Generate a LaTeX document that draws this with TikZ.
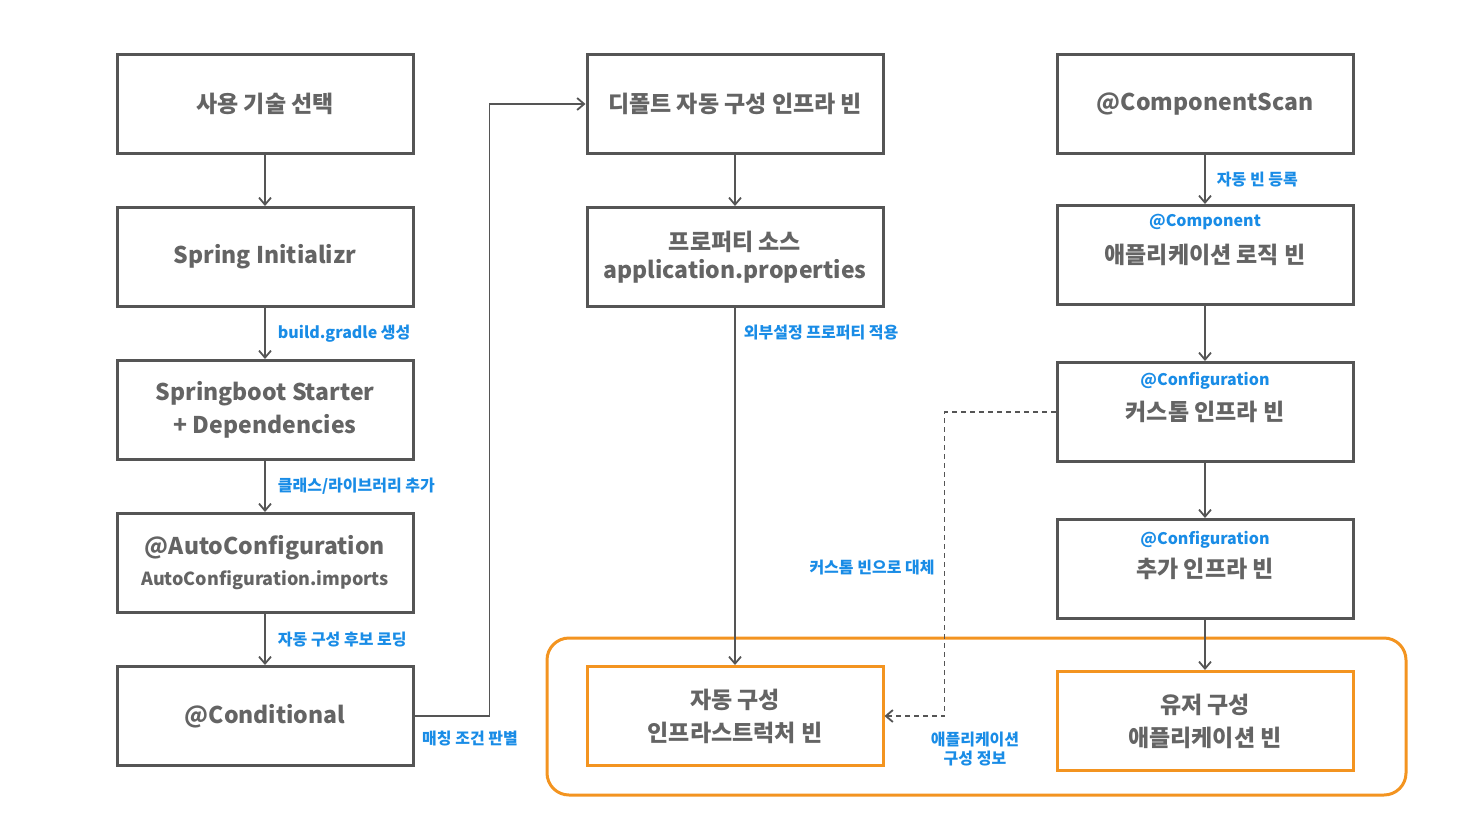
\documentclass[tikz,border=0pt]{standalone}
\usepackage{fontspec}
\setmainfont{Noto Sans CJK KR}
\usetikzlibrary{arrows.meta,positioning}
\definecolor{boxgray}{RGB}{85,85,85}
\definecolor{textgray}{RGB}{100,100,100}
\definecolor{labelblue}{RGB}{25,140,230}
\definecolor{grouporange}{RGB}{243,148,32}

\tikzset{
  stepbox/.style={draw=boxgray, line width=3pt, minimum width=296pt, minimum height=99pt,
    align=center, text=textgray, font=\fontsize{23}{33}\selectfont\bfseries},
  beanbox/.style={stepbox, draw=grouporange},
  tag/.style={text=labelblue, font=\fontsize{16}{19}\selectfont\bfseries},
  edgelbl/.style={tag, inner sep=2pt},
  arr/.style={draw=boxgray, line width=1.8pt, -{Straight Barb[length=7pt,width=12pt]}},
  dasharr/.style={arr, dash pattern=on 5pt off 4pt},
}

\begin{document}
\begin{tikzpicture}[x=1pt,y=-1pt]
  \useasboundingbox (0,0) rectangle (1467,820);

  % Group of resulting beans
  \draw[grouporange, line width=3pt, rounded corners=22pt] (547,638) rectangle (1406,795);

  % Left column: project setup
  \node[stepbox] (L1) at (265,104) {사용 기술 선택};
  \node[stepbox] (L2) at (265,257) {Spring Initializr};
  \node[stepbox] (L3) at (265,410) {Springboot Starter\\+ Dependencies};
  \node[stepbox] (L4) at (265,563) {@AutoConfiguration\\[-2pt]{\fontsize{18}{22}\selectfont AutoConfiguration.imports}};
  \node[stepbox] (L5) at (265,716) {@Conditional};

  % Middle column: auto configured beans
  \node[stepbox] (M1) at (735,104) {디폴트 자동 구성 인프라 빈};
  \node[stepbox] (M2) at (735,257) {프로퍼티 소스\\[-5pt]application.properties};
  \node[beanbox] (M3) at (735,716) {자동 구성\\인프라스트럭처 빈};

  % Right column: user beans
  \node[stepbox] (R1) at (1205,104) {@ComponentScan};
  \node[stepbox] (R2) at (1205,255) {애플리케이션 로직 빈};
  \node[tag] (R2tag) at (1205,222) {@Component};
  \node[stepbox] (R3) at (1205,412) {커스톰 인프라 빈};
  \node[tag] (R3tag) at (1205,381) {@Configuration};
  \node[stepbox] (R4) at (1205,569) {추가 인프라 빈};
  \node[tag] (R4tag) at (1205,540) {@Configuration};
  \node[beanbox] (R5) at (1205,721) {유저 구성\\애플리케이션 빈};

  % Left flow
  \draw[arr] (L1) -- (L2);
  \draw[arr] (L2) -- node[edgelbl, right=10pt] {build.gradle 생성} (L3);
  \draw[arr] (L3) -- node[edgelbl, right=10pt] {클래스/라이브러리 추가} (L4);
  \draw[arr] (L4) -- node[edgelbl, right=10pt] {자동 구성 후보 로딩} (L5);
  \draw[arr] (L5.east) -- ++(75,0) coordinate (c1) -- (c1 |- M1.west) -- (M1.west);
  \node[edgelbl] (matchlbl) at (470,739) {매칭 조건 판별};

  % Middle flow
  \draw[arr] (M1) -- (M2);
  \draw[arr] (M2) -- node[edgelbl, pos=0.07, right=6pt] {외부설정 프로퍼티 적용} (M3);

  % Right flow
  \draw[arr] (R1) -- node[edgelbl, right=9pt] {자동 빈 등록} (R2);
  \draw[arr] (R2) -- (R3);
  \draw[arr] (R3) -- (R4);
  \draw[arr] (R4) -- (R5);

  % Custom bean replaces the default one
  \draw[dasharr] (R3.west) -- ++(-111,0) coordinate (d1)
    -- node[edgelbl, left=7pt, pos=0.51] {커스톰 빈으로 대체} (d1 |- M3.east) -- (M3.east);
  \node[edgelbl, align=center] (cfglbl) at (975,749) {애플리케이션\\구성 정보};
\end{tikzpicture}
\end{document}
